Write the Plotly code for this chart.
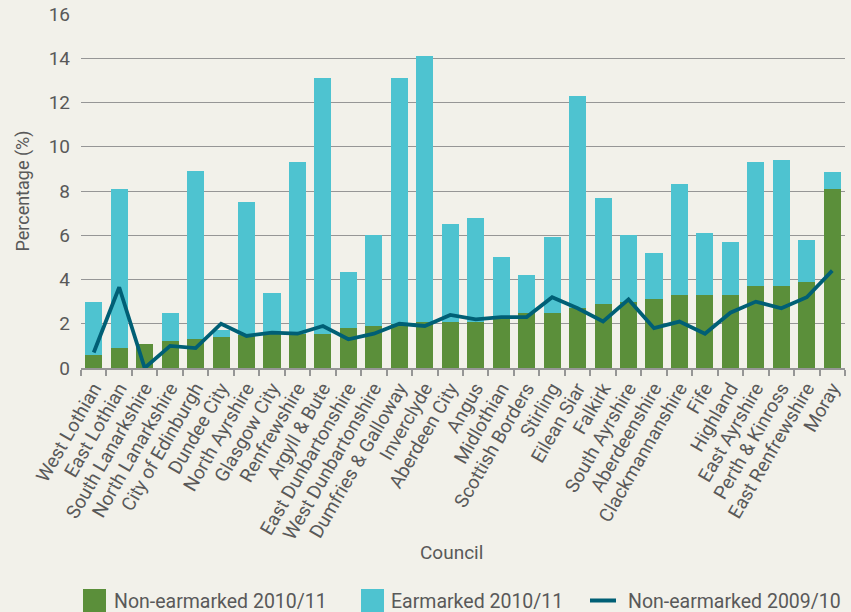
import plotly.graph_objects as go

councils = ["West Lothian", "East Lothian", "South Lanarkshire", "North Lanarkshire",
            "City of Edinburgh", "Dundee City", "North Ayrshire", "Glasgow City",
            "Renfrewshire", "Argyll & Bute", "East Dunbartonshire", "West Dunbartonshire",
            "Dumfries & Galloway", "Inverclyde", "Aberdeen City", "Angus", "Midlothian",
            "Scottish Borders", "Stirling", "Eilean Siar", "Falkirk", "South Ayrshire",
            "Aberdeenshire", "Clackmannanshire", "Fife", "Highland", "East Ayrshire",
            "Perth & Kinross", "East Renfrewshire", "Moray"]

non_earmarked_2010 = [0.6, 0.9, 1.1, 1.2, 1.3, 1.4, 1.5, 1.55, 1.55, 1.55, 1.8, 1.9,
                      2.0, 2.1, 2.1, 2.1, 2.3, 2.5, 2.5, 2.7, 2.9, 3.0, 3.1, 3.3,
                      3.3, 3.3, 3.7, 3.7, 3.9, 8.1]

earmarked_2010 = [2.4, 7.2, 0.0, 1.3, 7.6, 0.3, 6.0, 1.85, 7.75, 11.55, 2.55, 4.1,
                  11.1, 12.0, 4.4, 4.7, 2.7, 1.7, 3.4, 9.6, 4.8, 3.0, 2.1, 5.0,
                  2.8, 2.4, 5.6, 5.7, 1.9, 0.75]

non_earmarked_2009 = [0.7, 3.65, 0.0, 1.0, 0.9, 2.0, 1.45, 1.6, 1.55, 1.9, 1.3, 1.55,
                      2.0, 1.9, 2.4, 2.2, 2.3, 2.3, 3.2, 2.7, 2.1, 3.1, 1.8, 2.1,
                      1.55, 2.5, 3.0, 2.7, 3.2, 4.4]

legend_labels = ["Non-earmarked 2010/11", "Earmarked 2010/11", "Non-earmarked 2009/10"]

GREEN = "#5b8f3a"
CYAN = "#4ec3d0"
TEAL = "#005f75"
BG = "#f2f1ea"
TXT = "#595959"
GRID = "#969696"
FONT = "Roboto"

W, H = 851, 612
ML, MR, MT, MB = 81, 6, 14, 244
PW, PH = W - ML - MR, H - MT - MB


def px(x):
    return (x - ML) / PW


def py(y):
    return (H - MB - y) / PH


fig = go.Figure()
fig.add_trace(go.Bar(x=councils, y=non_earmarked_2010, name=legend_labels[0],
                     marker=dict(color=GREEN, line=dict(width=0))))
fig.add_trace(go.Bar(x=councils, y=earmarked_2010, name=legend_labels[1],
                     marker=dict(color=CYAN, line=dict(width=0))))
fig.add_trace(go.Scatter(x=councils, y=non_earmarked_2009, name=legend_labels[2],
                         mode="lines", line=dict(color=TEAL, width=3.8)))

shapes = [
    dict(type="rect", xref="paper", yref="paper", x0=px(83), x1=px(106), y0=py(589), y1=py(615),
         fillcolor=GREEN, line=dict(width=0), layer="above"),
    dict(type="rect", xref="paper", yref="paper", x0=px(361), x1=px(384), y0=py(589), y1=py(615),
         fillcolor=CYAN, line=dict(width=0), layer="above"),
    dict(type="line", xref="paper", yref="paper", x0=px(590), x1=px(616), y0=py(600.5), y1=py(600.5),
         line=dict(color=TEAL, width=4), layer="above"),
]
annotations = [
    dict(text="Council", xref="paper", yref="paper", x=px(451), y=py(552),
         showarrow=False, xanchor="center", yanchor="middle",
         font=dict(family=FONT, size=19, color=TXT)),
]
for lbl, x0 in zip(legend_labels, [112, 389, 626]):
    annotations.append(dict(text=lbl, xref="paper", yref="paper", x=px(x0), y=py(601),
                            showarrow=False, xanchor="left", yanchor="middle",
                            font=dict(family=FONT, size=19.5, color=TXT)))

fig.update_layout(
    width=W, height=H,
    barmode="stack", bargap=0.33,
    paper_bgcolor=BG, plot_bgcolor=BG,
    margin=dict(l=ML, r=MR, t=MT, b=MB, autoexpand=False),
    font=dict(family=FONT, size=19, color=TXT),
    showlegend=False,
    shapes=shapes,
    annotations=annotations,
)
fig.update_xaxes(
    type="category", tickangle=-60, tickson="boundaries", ticks="outside",
    ticklen=6, tickcolor=GRID, tickwidth=1.5,
    showline=True, linecolor=GRID, linewidth=1.5, showgrid=False,
    tickfont=dict(family=FONT, size=19, color=TXT), automargin=False,
)
fig.update_yaxes(
    range=[0, 16], dtick=2, showgrid=True, gridcolor=GRID, gridwidth=1.2,
    zeroline=False, showline=False, ticks="", tickfont=dict(family=FONT, size=19, color=TXT),
    ticklabelstandoff=10,
    title=dict(text="Percentage (%)", font=dict(family=FONT, size=18, color=TXT), standoff=14),
    automargin=False,
)

fig.write_html("out.html", config={"displayModeBar": False},
               post_script="document.body.style.margin='0';document.body.style.overflow='hidden';")
